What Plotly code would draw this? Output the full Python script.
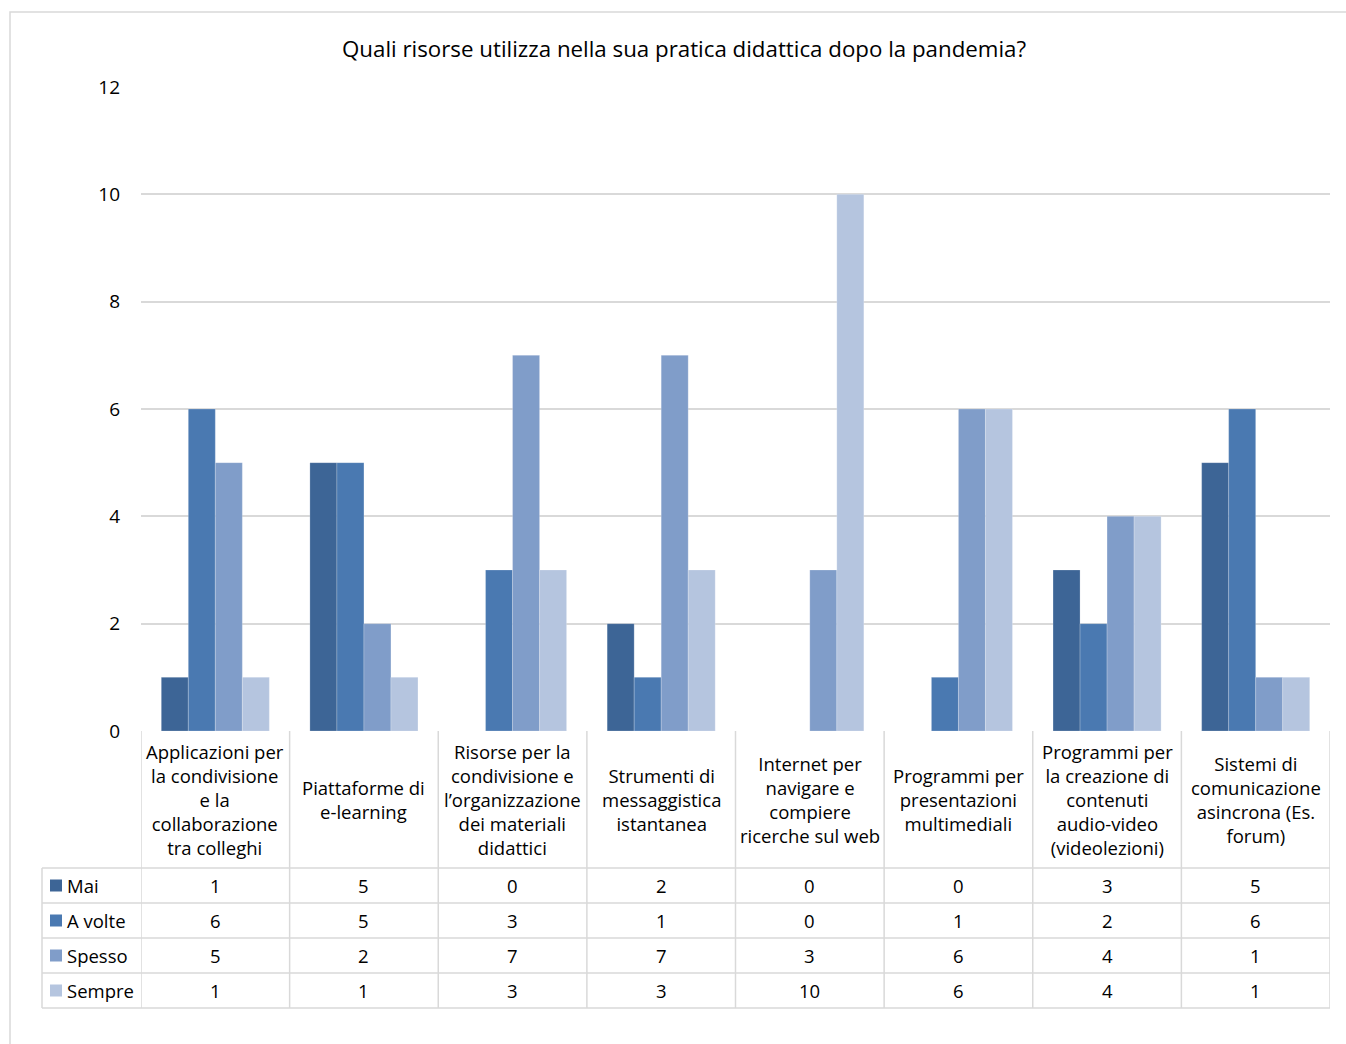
import plotly.graph_objects as go

W, H = 1346, 1044

title = "Quali risorse utilizza nella sua pratica didattica dopo la pandemia?"
categories = [
    "Applicazioni per la condivisione e la collaborazione tra colleghi",
    "Piattaforme di e-learning",
    "Risorse per la condivisione e l’organizzazione dei materiali didattici",
    "Strumenti di messaggistica istantanea",
    "Internet per navigare e compiere ricerche sul web",
    "Programmi per presentazioni multimediali",
    "Programmi per la creazione di contenuti audio-video (videolezioni)",
    "Sistemi di comunicazione asincrona (Es. forum)",
]
category_labels = [
    "Applicazioni per<br>la condivisione<br>e la<br>collaborazione<br>tra colleghi",
    "Piattaforme di<br>e-learning",
    "Risorse per la<br>condivisione e<br>l’organizzazione<br>dei materiali<br>didattici",
    "Strumenti di<br>messaggistica<br>istantanea",
    "Internet per<br>navigare e<br>compiere<br>ricerche sul web",
    "Programmi per<br>presentazioni<br>multimediali",
    "Programmi per<br>la creazione di<br>contenuti<br>audio-video<br>(videolezioni)",
    "Sistemi di<br>comunicazione<br>asincrona (Es.<br>forum)",
]
series_names = ["Mai", "A volte", "Spesso", "Sempre"]
mai = [1, 5, 0, 2, 0, 0, 3, 5]
a_volte = [6, 5, 3, 1, 0, 1, 2, 6]
spesso = [5, 2, 7, 7, 3, 6, 4, 1]
sempre = [1, 1, 3, 3, 10, 6, 4, 1]
series_values = [mai, a_volte, spesso, sempre]
colors = ["#3d6596", "#4a79b1", "#809dc9", "#b5c5df"]
y_ticks = [0, 2, 4, 6, 8, 10, 12]

FONT = "Open Sans"
TXT = "#000000"
GRID = "#d9d9d9"
FS = 18.5


def px(x):
    return x / W


def py(y):
    return 1 - y / H


# geometry (pixels)
plot_l, plot_r = 141, 1330
plot_t, plot_b = 87, 731
tab_l = 42
row_lines = [868, 903, 938, 973, 1008]
row_centers = [(row_lines[i] + row_lines[i + 1]) / 2 for i in range(4)]

xs = list(range(len(categories)))

fig = go.Figure()
for name, vals, col in zip(series_names, series_values, colors):
    fig.add_trace(go.Bar(
        x=xs, y=vals, name=name, marker_color=col,
        marker_line=dict(width=0.6, color="rgba(255,255,255,0.35)"),
        hovertext=categories,
    ))

shapes = []
annotations = []

# outer chart border
shapes.append(dict(type="rect", xref="paper", yref="paper",
                   x0=px(10), x1=px(1360), y0=py(1060), y1=py(12),
                   line=dict(color=GRID, width=1.5), fillcolor="rgba(0,0,0,0)", layer="below"))

# table horizontal lines
for y in row_lines:
    shapes.append(dict(type="line", xref="paper", yref="paper",
                       x0=px(tab_l), x1=px(plot_r), y0=py(y), y1=py(y),
                       line=dict(color=GRID, width=1.5)))
# left border of legend column
shapes.append(dict(type="line", xref="paper", yref="paper",
                   x0=px(tab_l), x1=px(tab_l), y0=py(row_lines[0]), y1=py(row_lines[-1]),
                   line=dict(color=GRID, width=1.5)))
# column boundaries (data coords)
for k in range(len(categories) + 1):
    shapes.append(dict(type="line", xref="x", yref="paper",
                       x0=k - 0.5, x1=k - 0.5, y0=py(plot_b), y1=py(row_lines[-1]),
                       line=dict(color=GRID, width=1.5)))

# header labels
for i, lab in enumerate(category_labels):
    annotations.append(dict(xref="x", yref="paper", x=i, y=py((plot_b + row_lines[0]) / 2),
                            text=lab, showarrow=False, align="center",
                            xanchor="center", yanchor="middle",
                            font=dict(family=FONT, size=FS, color=TXT)))

# value rows + legend keys
for r, (name, vals, col) in enumerate(zip(series_names, series_values, colors)):
    yc = row_centers[r]
    shapes.append(dict(type="rect", xref="paper", yref="paper",
                       x0=px(50), x1=px(62), y0=py(yc + 6), y1=py(yc - 6),
                       line=dict(width=0), fillcolor=col))
    annotations.append(dict(xref="paper", yref="paper", x=px(65), y=py(yc),
                            text=name, showarrow=False, xanchor="left", yanchor="middle",
                            font=dict(family=FONT, size=FS, color=TXT)))
    for i, v in enumerate(vals):
        annotations.append(dict(xref="x", yref="paper", x=i, y=py(yc),
                                text=str(v), showarrow=False, xanchor="center", yanchor="middle",
                                font=dict(family=FONT, size=FS, color=TXT)))

# title
annotations.append(dict(xref="paper", yref="paper", x=px(684), y=py(49),
                        text=title, showarrow=False, xanchor="center", yanchor="middle",
                        font=dict(family=FONT, size=22.3, color=TXT)))

fig.update_layout(
    width=W, height=H,
    margin=dict(l=0, r=0, t=0, b=0, autoexpand=False),
    paper_bgcolor="white", plot_bgcolor="white",
    barmode="group", bargap=0.273, bargroupgap=0,
    showlegend=False,
    shapes=shapes, annotations=annotations,
    font=dict(family=FONT, color=TXT),
    xaxis=dict(domain=[px(plot_l), px(plot_r)], range=[-0.5, len(categories) - 0.5],
               showticklabels=False, showgrid=False, zeroline=False, showline=False, ticks="",
               automargin=False),
    yaxis=dict(domain=[py(plot_b), py(plot_t)], range=[0, 12], tickvals=y_ticks,
               showgrid=True, gridcolor=GRID, gridwidth=1.5, zeroline=False, showline=False,
               ticks="", ticklabelstandoff=20, automargin=False,
               tickfont=dict(family=FONT, size=19, color=TXT)),
)

fig.write_html("out.html")
